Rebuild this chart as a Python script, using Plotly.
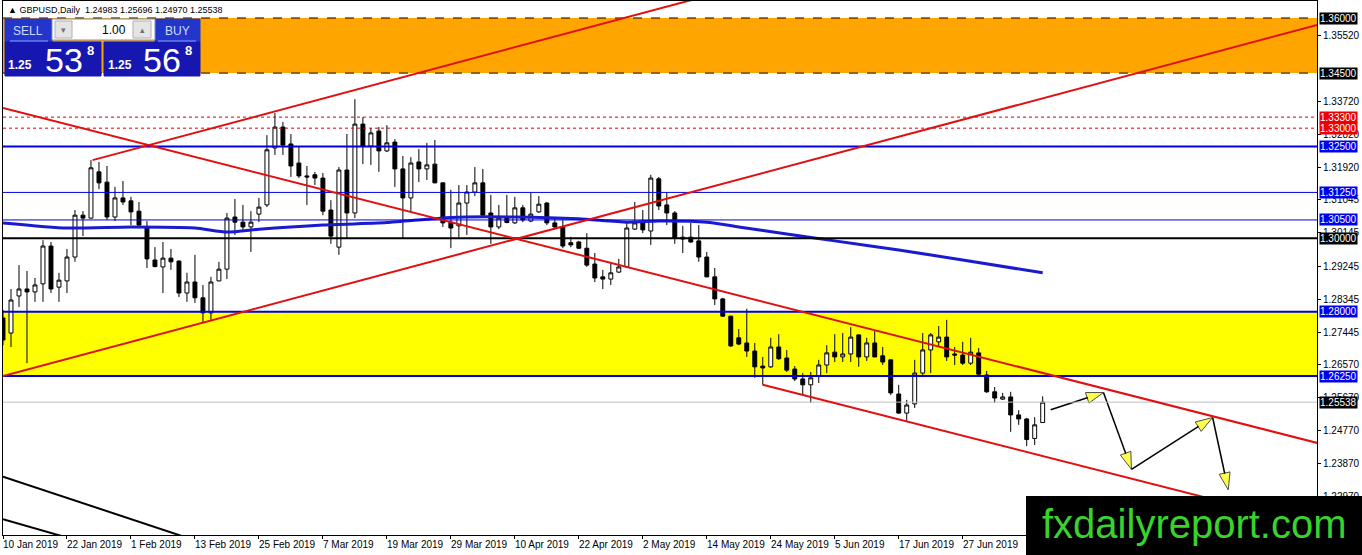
import plotly.graph_objects as go

# GBPUSD daily bars, 10 Jan 2019 .. 11 Jul 2019 (bar index 0..130)
bar_open = [1.2783, 1.2742, 1.2843, 1.2862, 1.2854, 1.2876, 1.2979, 1.2867, 1.2884, 1.2949,
            1.3063, 1.3055, 1.3181, 1.3153, 1.3058, 1.3110, 1.3102, 1.3074, 1.3031, 1.2941,
            1.2922, 1.2946, 1.2938, 1.2851, 1.2881, 1.2838, 1.2797, 1.2884, 1.2916, 1.3058,
            1.3044, 1.3031, 1.3066, 1.3091, 1.3246, 1.3303, 1.3257, 1.3205, 1.3170, 1.3173,
            1.3164, 1.3077, 1.2976, 1.3186, 1.3069, 1.3311, 1.3251, 1.3292, 1.3238, 1.3262,
            1.3189, 1.3110, 1.3208, 1.3189, 1.3202, 1.3151, 1.3044, 1.3034, 1.3096, 1.3126,
            1.3151, 1.3069, 1.3031, 1.3055, 1.3042, 1.3083, 1.3047, 1.3072, 1.3096, 1.3042,
            1.3031, 1.2988, 1.2990, 1.2973, 1.2930, 1.2895, 1.2889, 1.2908, 1.2922, 1.3025,
            1.3042, 1.3020, 1.3162, 1.3091, 1.3069, 1.2998, 1.3003, 1.2993, 1.2949, 1.2895,
            1.2835, 1.2788, 1.2729, 1.2715, 1.2693, 1.2652, 1.2650, 1.2704, 1.2674, 1.2644,
            1.2617, 1.2601, 1.2625, 1.2655, 1.2690, 1.2677, 1.2685, 1.2737, 1.2677, 1.2715,
            1.2680, 1.2669, 1.2576, 1.2524, 1.2549, 1.2633, 1.2696, 1.2718, 1.2731, 1.2685,
            1.2682, 1.2660, 1.2688, 1.2628, 1.2582, 1.2562, 1.2568, 1.2519, 1.2508, 1.2455,
            1.24983]
bar_high = [1.2805, 1.2862, 1.2927, 1.2911, 1.2892, 1.2995, 1.2990, 1.2906, 1.2971, 1.3077,
            1.3074, 1.3213, 1.3208, 1.3197, 1.3140, 1.3156, 1.3113, 1.3099, 1.3047, 1.2976,
            1.2990, 1.2971, 1.2940, 1.2906, 1.2955, 1.2873, 1.2895, 1.2936, 1.3069, 1.3107,
            1.3091, 1.3074, 1.3110, 1.3281, 1.3341, 1.3317, 1.3284, 1.3249, 1.3197, 1.3181,
            1.3178, 1.3104, 1.3194, 1.3284, 1.3379, 1.3330, 1.3300, 1.3303, 1.3308, 1.3270,
            1.3224, 1.3221, 1.3243, 1.3260, 1.3268, 1.3152, 1.3132, 1.3145, 1.3145, 1.3194,
            1.3189, 1.3118, 1.3091, 1.3118, 1.3113, 1.3091, 1.3126, 1.3115, 1.3099, 1.3058,
            1.3050, 1.3004, 1.2993, 1.3014, 1.2960, 1.2914, 1.2933, 1.2944, 1.3042, 1.3099,
            1.3077, 1.3173, 1.3167, 1.3126, 1.3074, 1.3034, 1.3042, 1.3036, 1.2963, 1.2919,
            1.2838, 1.2789, 1.2753, 1.2808, 1.2715, 1.2677, 1.2729, 1.2739, 1.2696, 1.2652,
            1.2633, 1.2636, 1.2669, 1.2709, 1.2739, 1.2742, 1.2758, 1.2738, 1.2729, 1.2747,
            1.2704, 1.2670, 1.2601, 1.2560, 1.2669, 1.2742, 1.2742, 1.2761, 1.2778, 1.2704,
            1.2718, 1.2729, 1.2701, 1.2639, 1.2595, 1.2579, 1.2582, 1.2532, 1.2511, 1.2513,
            1.25696]
bar_low = [1.2709, 1.2704, 1.2813, 1.2660, 1.2827, 1.2827, 1.2851, 1.2827, 1.2851, 1.2936,
           1.3006, 1.3054, 1.3134, 1.3050, 1.3047, 1.3091, 1.3036, 1.3031, 1.2919, 1.2921,
           1.2851, 1.2914, 1.2840, 1.2827, 1.2824, 1.2772, 1.2778, 1.2883, 1.2889, 1.3009,
           1.3023, 1.2963, 1.3044, 1.3085, 1.3227, 1.3227, 1.3167, 1.3164, 1.3091, 1.3145,
           1.3063, 1.2985, 1.2955, 1.3001, 1.3055, 1.3202, 1.3200, 1.3181, 1.3235, 1.3140,
           1.3001, 1.3072, 1.3153, 1.3159, 1.3150, 1.3031, 1.2973, 1.3003, 1.3009, 1.3115,
           1.3058, 1.2985, 1.3025, 1.3041, 1.3039, 1.3044, 1.3044, 1.3069, 1.3036, 1.3028,
           1.2973, 1.2976, 1.2971, 1.2922, 1.2881, 1.2862, 1.2873, 1.2906, 1.2919, 1.3023,
           1.3014, 1.2982, 1.3077, 1.3036, 1.2985, 1.2960, 1.2988, 1.2936, 1.2894, 1.2818,
           1.2786, 1.2704, 1.2709, 1.2677, 1.2620, 1.2601, 1.2647, 1.2669, 1.2636, 1.2611,
           1.2573, 1.2552, 1.2606, 1.2633, 1.2663, 1.2663, 1.2663, 1.2650, 1.2666, 1.2676,
           1.2655, 1.2573, 1.2522, 1.2503, 1.2538, 1.2628, 1.2633, 1.2704, 1.2666, 1.2655,
           1.2655, 1.2655, 1.2625, 1.2579, 1.2552, 1.2560, 1.2473, 1.2492, 1.2434, 1.2437,
           1.24970]
bar_close = [1.2723, 1.2832, 1.2862, 1.2854, 1.2873, 1.2979, 1.2862, 1.2886, 1.2949, 1.3063,
             1.3055, 1.3192, 1.3151, 1.3058, 1.3110, 1.3099, 1.3072, 1.3036, 1.2944, 1.2923,
             1.2946, 1.2936, 1.2851, 1.2881, 1.2838, 1.2797, 1.2881, 1.2916, 1.3055, 1.3044,
             1.3031, 1.3044, 1.3085, 1.3241, 1.3303, 1.3254, 1.3197, 1.3170, 1.3167, 1.3164,
             1.3074, 1.3006, 1.3186, 1.3069, 1.3311, 1.3251, 1.3287, 1.3238, 1.3260, 1.3189,
             1.3110, 1.3205, 1.3189, 1.3200, 1.3151, 1.3042, 1.3028, 1.3096, 1.3126, 1.3151,
             1.3063, 1.3031, 1.3055, 1.3043, 1.3083, 1.3050, 1.3066, 1.3093, 1.3042, 1.3031,
             1.2979, 1.2982, 1.2973, 1.2927, 1.2892, 1.2889, 1.2906, 1.2922, 1.3028, 1.3042,
             1.3023, 1.3164, 1.3088, 1.3069, 1.3001, 1.3003, 1.2990, 1.2949, 1.2895, 1.2835,
             1.2788, 1.2707, 1.2712, 1.2693, 1.2650, 1.2647, 1.2704, 1.2672, 1.2641, 1.2617,
             1.2601, 1.2620, 1.2655, 1.2688, 1.2677, 1.2685, 1.2731, 1.2677, 1.2715, 1.2677,
             1.2663, 1.2579, 1.2524, 1.2546, 1.2633, 1.2696, 1.2737, 1.2731, 1.2677, 1.2682,
             1.2660, 1.2690, 1.2630, 1.2582, 1.2565, 1.2568, 1.2519, 1.2508, 1.2452, 1.2492,
             1.25538]
bars = list(range(len(bar_close)))

# moving average (read at selected bars)
ma_bars = [0, 8, 16, 24, 28, 32, 36, 40, 48, 56, 64, 72, 78, 82, 88, 92, 98, 104, 112, 120, 130]
ma_vals = [1.3042, 1.3028, 1.3031, 1.3028, 1.3017, 1.3025, 1.3031, 1.3036, 1.3043, 1.3057, 1.3058,
           1.3053, 1.3044, 1.3047, 1.3044, 1.3031, 1.3012, 1.2993, 1.2968, 1.2941, 1.2906]

# x axis labels
tick_bars = [0, 8, 16, 24, 32, 40, 48, 56, 64, 72, 80, 88, 96, 104, 112, 120]
tick_labels = ["10 Jan 2019", "22 Jan 2019", "1 Feb 2019", "13 Feb 2019", "25 Feb 2019",
               "7 Mar 2019", "19 Mar 2019", "29 Mar 2019", "10 Apr 2019", "22 Apr 2019",
               "2 May 2019", "14 May 2019", "24 May 2019", "5 Jun 2019", "17 Jun 2019",
               "27 Jun 2019"]

# price scale ticks
price_ticks = [1.35520, 1.33720, 1.32820, 1.31920, 1.31045, 1.30145, 1.29245, 1.28345,
               1.27445, 1.26570, 1.25670, 1.24770, 1.23870, 1.22970]

# horizontal levels with their price labels
level_prices = [1.36, 1.345, 1.333, 1.33, 1.325, 1.3125, 1.305, 1.30, 1.28, 1.2625, 1.25538]
level_label_bg = ["black", "black", "#f00000", "#f00000", "#0000f0", "#0000f0", "#0000f0",
                  "black", "#0000f0", "#0000f0", "black"]

# zones
orange_zone = (1.345, 1.36)
yellow_zone = (1.2625, 1.28)

# trend lines: (bar0, price0, bar1, price1)
red_lines = [(11.2, 1.3213, 100, 1.3730),
             (0, 1.2625, 165, 1.3585),
             (0, 1.3355, 165, 1.2439),
             (95, 1.2601, 165, 1.2213)]
black_lines = [(0, 1.2351, 30, 1.2134),
               (0, 1.2235, 20, 1.2110)]

# projected path arrows
arrow_bars = [131.0, 137.6, 141.1, 151.25, 153.2]
arrow_prices = [1.2533, 1.2580, 1.2371, 1.2512, 1.2315]

FONT = "Liberation Sans"
W_PX, H_PX = 1362, 555
ML, MR, MT, MB = 3, 45, 1, 20
PW, PH = W_PX - ML - MR, H_PX - MT - MB


def fx(p):
    return (p - ML) / PW


def fy(p):
    return (H_PX - MB - p) / PH


fig = go.Figure()

fig.add_trace(go.Candlestick(
    x=bars, open=bar_open, high=bar_high, low=bar_low, close=bar_close,
    increasing=dict(line=dict(color="black", width=1), fillcolor="white"),
    decreasing=dict(line=dict(color="black", width=1), fillcolor="black"),
    whiskerwidth=0, showlegend=False, name="GBPUSD"))

fig.add_trace(go.Scatter(
    x=ma_bars, y=ma_vals, mode="lines", line=dict(color="#1a1ad0", width=3, shape="spline", smoothing=0.6),
    showlegend=False, hoverinfo="skip"))

shapes = []
# background zones
shapes.append(dict(type="rect", xref="paper", yref="y", x0=0, x1=1, y0=orange_zone[0], y1=orange_zone[1],
                   fillcolor="#ffa500", line_width=0, layer="below"))
shapes.append(dict(type="rect", xref="paper", yref="y", x0=0, x1=1, y0=yellow_zone[0], y1=yellow_zone[1],
                   fillcolor="#ffff00", line_width=0, layer="below"))

line_styles = {
    1.36: ("black", 1, "dash"), 1.345: ("black", 1, "dash"),
    1.333: ("#e00000", 1, "3px,3px"), 1.33: ("#e00000", 1, "3px,3px"),
    1.325: ("#0000e0", 2, "solid"), 1.3125: ("#0000e0", 1, "solid"), 1.305: ("#0000e0", 1, "solid"),
    1.30: ("black", 2, "solid"), 1.28: ("#0000e0", 2, "solid"), 1.2625: ("#0000e0", 2, "solid"),
    1.25538: ("#c0c0c0", 1, "solid"),
}
for p in level_prices:
    c, w, d = line_styles[p]
    shapes.append(dict(type="line", xref="paper", yref="y", x0=0, x1=1, y0=p, y1=p,
                       line=dict(color=c, width=w, dash=d), layer="above"))

for x0, y0, x1, y1 in red_lines:
    shapes.append(dict(type="line", xref="x", yref="y", x0=x0, y0=y0, x1=x1, y1=y1,
                       line=dict(color="#e01010", width=2), layer="above"))
for x0, y0, x1, y1 in black_lines:
    shapes.append(dict(type="line", xref="x", yref="y", x0=x0, y0=y0, x1=x1, y1=y1,
                       line=dict(color="black", width=2), layer="above"))

# trade panel
panel = [
    (5, 19, 52, 42, "#2236cc"), (155, 19, 200, 42, "#2236cc"),
    (52, 19, 155, 40, "white"),
    (5, 42, 101, 76, "#1616b0"), (104, 42, 200, 76, "#1616b0"),
]
for x0, y0, x1, y1, c in panel:
    shapes.append(dict(type="rect", xref="paper", yref="paper", x0=fx(x0), x1=fx(x1), y0=fy(y1), y1=fy(y0),
                       fillcolor=c, line=dict(color="#8090c0" if c == "white" else c, width=1), layer="above"))
for x0, x1 in [(55, 72), (133, 151)]:
    shapes.append(dict(type="rect", xref="paper", yref="paper", x0=fx(x0), x1=fx(x1), y0=fy(38), y1=fy(21),
                       fillcolor="#e4e4e4", line=dict(color="#b0b0b0", width=1), layer="above"))
for x0, x1 in [(10, 48), (158, 196)]:
    shapes.append(dict(type="line", xref="paper", yref="paper", x0=fx(x0), x1=fx(x1), y0=fy(41), y1=fy(41),
                       line=dict(color="#8fa0ff", width=1), layer="above"))

# watermark box
shapes.append(dict(type="rect", xref="paper", yref="paper", x0=fx(1026), x1=fx(1362), y0=fy(556), y1=fy(496),
                   fillcolor="black", line_width=0, layer="above"))

fig.update_layout(shapes=shapes)

# projected path
fig.add_trace(go.Scatter(
    x=arrow_bars, y=arrow_prices, mode="lines+markers",
    line=dict(color="black", width=1.5),
    marker=dict(symbol=["circle", "arrow", "arrow", "arrow", "arrow"], size=[0, 18, 18, 18, 18],
                angleref="previous", color="#ffff00", line=dict(color="black", width=1)),
    showlegend=False, hoverinfo="skip"))

ann = []
ann.append(dict(text="\u25b2 GBPUSD,Daily  1.24983 1.25696 1.24970 1.25538", xref="paper", yref="paper",
                x=fx(6), y=fy(10), xanchor="left", yanchor="middle", showarrow=False,
                font=dict(family=FONT, size=9, color="black")))
for p, bg in zip(level_prices, level_label_bg):
    ann.append(dict(text=f"{p:.5f}", xref="paper", yref="y", x=1, y=p, xanchor="left", yanchor="middle",
                    xshift=2, showarrow=False, bgcolor=bg, borderpad=0,
                    font=dict(family=FONT, size=10, color="white")))
for b, t in zip(tick_bars, tick_labels):
    ann.append(dict(text=t, xref="x", yref="paper", x=b, y=0, xanchor="left", yanchor="top",
                    xshift=-2, yshift=-2, showarrow=False, font=dict(family=FONT, size=10, color="black")))

# panel texts
panel_text = [
    ("SELL", 28, 31, 12, "#d0dcff"), ("BUY", 177, 31, 12, "#d0dcff"),
    ("1.00", 114, 30, 12, "black"), ("\u25be", 63, 30, 9, "#707070"), ("\u25b4", 142, 30, 9, "#707070"),
    ("<b>1.25</b>", 20, 65, 12, "white"), ("53", 64, 60, 34, "white"), ("<b>8</b>", 90, 50, 13, "white"),
    ("<b>1.25</b>", 120, 65, 12, "white"), ("56", 162, 60, 34, "white"), ("<b>8</b>", 188, 50, 13, "white"),
]
for t, x, y, s, c in panel_text:
    ann.append(dict(text=t, xref="paper", yref="paper", x=fx(x), y=fy(y), xanchor="center", yanchor="middle",
                    showarrow=False, font=dict(family=FONT, size=s, color=c)))

ann.append(dict(text="fxdailyreport.com", xref="paper", yref="paper", x=fx(1194), y=fy(524),
                xanchor="center", yanchor="middle", showarrow=False,
                font=dict(family=FONT, size=40, color="#3ad22c")))

fig.update_layout(
    annotations=ann,
    width=W_PX, height=H_PX,
    margin=dict(l=ML, r=MR, t=MT, b=MB),
    paper_bgcolor="white", plot_bgcolor="white",
    font=dict(family=FONT, size=10, color="black"),
    hovermode=False,
    xaxis=dict(range=[0, 164.3], showgrid=False, zeroline=False, rangeslider=dict(visible=False),
               tickvals=tick_bars, showticklabels=False, ticks="outside", ticklen=3, tickcolor="black",
               showline=True, linecolor="black", linewidth=1, mirror=True),
    yaxis=dict(range=[1.21920, 1.36463], side="right", showgrid=False, zeroline=False,
               tickvals=price_ticks, ticktext=[f"{v:.5f}" for v in price_ticks],
               ticks="outside", ticklen=3, tickcolor="black",
               showline=True, linecolor="black", linewidth=1, mirror=True),
)

fig.write_html("out.html", config={"displayModeBar": False})

# drop the default page margin so the figure fills the window
with open("out.html", encoding="utf-8") as f:
    page = f.read()
page = page.replace("<head>", "<head><style>html,body{margin:0;padding:0;overflow:hidden;}</style>", 1)
with open("out.html", "w", encoding="utf-8") as f:
    f.write(page)
